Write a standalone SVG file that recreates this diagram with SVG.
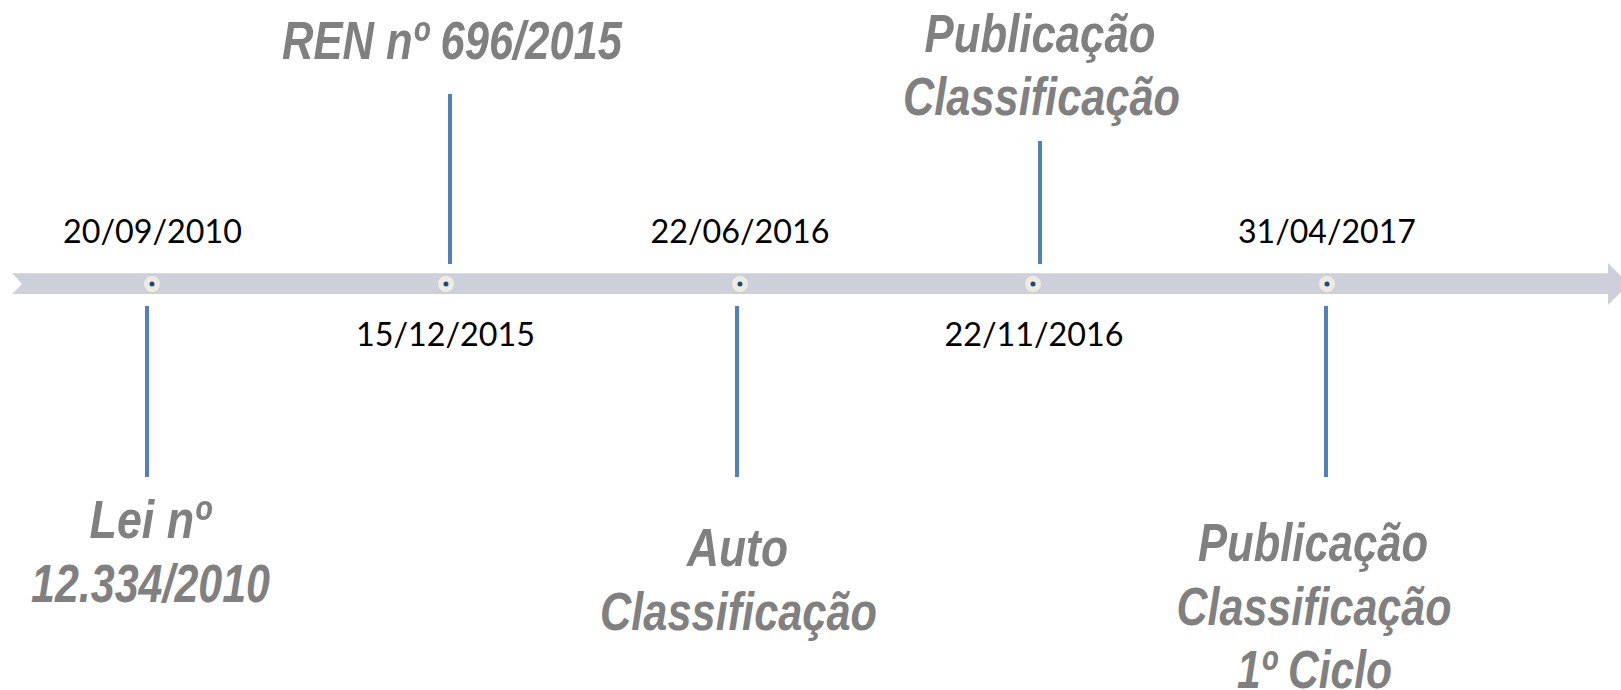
<svg xmlns="http://www.w3.org/2000/svg" width="1621" height="690" viewBox="0 0 1621 690">
<style>
.date{font-family:Lato,"Open Sans","Liberation Sans",sans-serif;font-size:32px;fill:#000;text-anchor:middle}
.lbl{font-family:"Liberation Sans",Arial,sans-serif;font-size:53px;font-weight:bold;font-style:italic;fill:#808080;text-anchor:middle}
.stem{stroke:#4F81BD;stroke-width:4;fill:none}
.ring{fill:#EEECE1}
.core{fill:#1F497D}
</style>
<rect width="1621" height="690" fill="#fff"/>
<g id="timeline">
<polygon points="12,273 1608,273 1608,263 1629,284 1608,305 1608,294 12,294 22,284" fill="#CDD0DA"/>
<line x1="12" y1="273.5" x2="1608" y2="273.5" stroke="#D8DAE2" stroke-width="1"/>
</g>
<g id="connectors">
<line class="stem" x1="147" y1="306" x2="147" y2="477"/>
<line class="stem" x1="450" y1="94" x2="450" y2="264"/>
<line class="stem" x1="737" y1="306" x2="737" y2="477"/>
<line class="stem" x1="1040" y1="141" x2="1040" y2="264"/>
<line class="stem" x1="1326" y1="306" x2="1326" y2="477"/>
</g>
<g id="node-2010">
<circle class="ring" cx="152" cy="284" r="8"/><circle class="core" cx="152" cy="284" r="2.5"/>
<text class="date" x="152.5" y="243" textLength="179" lengthAdjust="spacingAndGlyphs">20/09/2010</text>
<text class="lbl" x="150" y="538" textLength="121" lengthAdjust="spacingAndGlyphs">Lei nº</text>
<text class="lbl" x="150.5" y="602" textLength="239" lengthAdjust="spacingAndGlyphs">12.334/2010</text>
</g>
<g id="node-2015">
<circle class="ring" cx="446" cy="284" r="8"/><circle class="core" cx="446" cy="284" r="2.5"/>
<text class="date" x="445.5" y="346" textLength="179" lengthAdjust="spacingAndGlyphs">15/12/2015</text>
<text class="lbl" x="452" y="59" textLength="340" lengthAdjust="spacingAndGlyphs">REN nº 696/2015</text>
</g>
<g id="node-2016-06">
<circle class="ring" cx="740" cy="284" r="8"/><circle class="core" cx="740" cy="284" r="2.5"/>
<text class="date" x="740" y="243" textLength="179" lengthAdjust="spacingAndGlyphs">22/06/2016</text>
<text class="lbl" x="737.5" y="566" textLength="101" lengthAdjust="spacingAndGlyphs">Auto</text>
<text class="lbl" x="738.5" y="630" textLength="277" lengthAdjust="spacingAndGlyphs">Classificação</text>
</g>
<g id="node-2016-11">
<circle class="ring" cx="1033" cy="284" r="8"/><circle class="core" cx="1033" cy="284" r="2.5"/>
<text class="date" x="1034" y="346" textLength="179" lengthAdjust="spacingAndGlyphs">22/11/2016</text>
<text class="lbl" x="1040" y="52" textLength="231" lengthAdjust="spacingAndGlyphs">Publicação</text>
<text class="lbl" x="1041.5" y="115" textLength="277" lengthAdjust="spacingAndGlyphs">Classificação</text>
</g>
<g id="node-2017">
<circle class="ring" cx="1327" cy="284" r="8"/><circle class="core" cx="1327" cy="284" r="2.5"/>
<text class="date" x="1327" y="243" textLength="178" lengthAdjust="spacingAndGlyphs">31/04/2017</text>
<text class="lbl" x="1313" y="561" textLength="230" lengthAdjust="spacingAndGlyphs">Publicação</text>
<text class="lbl" x="1314" y="625" textLength="275" lengthAdjust="spacingAndGlyphs">Classificação</text>
<text class="lbl" x="1314.5" y="688" textLength="155" lengthAdjust="spacingAndGlyphs">1º Ciclo</text>
</g>
</svg>
